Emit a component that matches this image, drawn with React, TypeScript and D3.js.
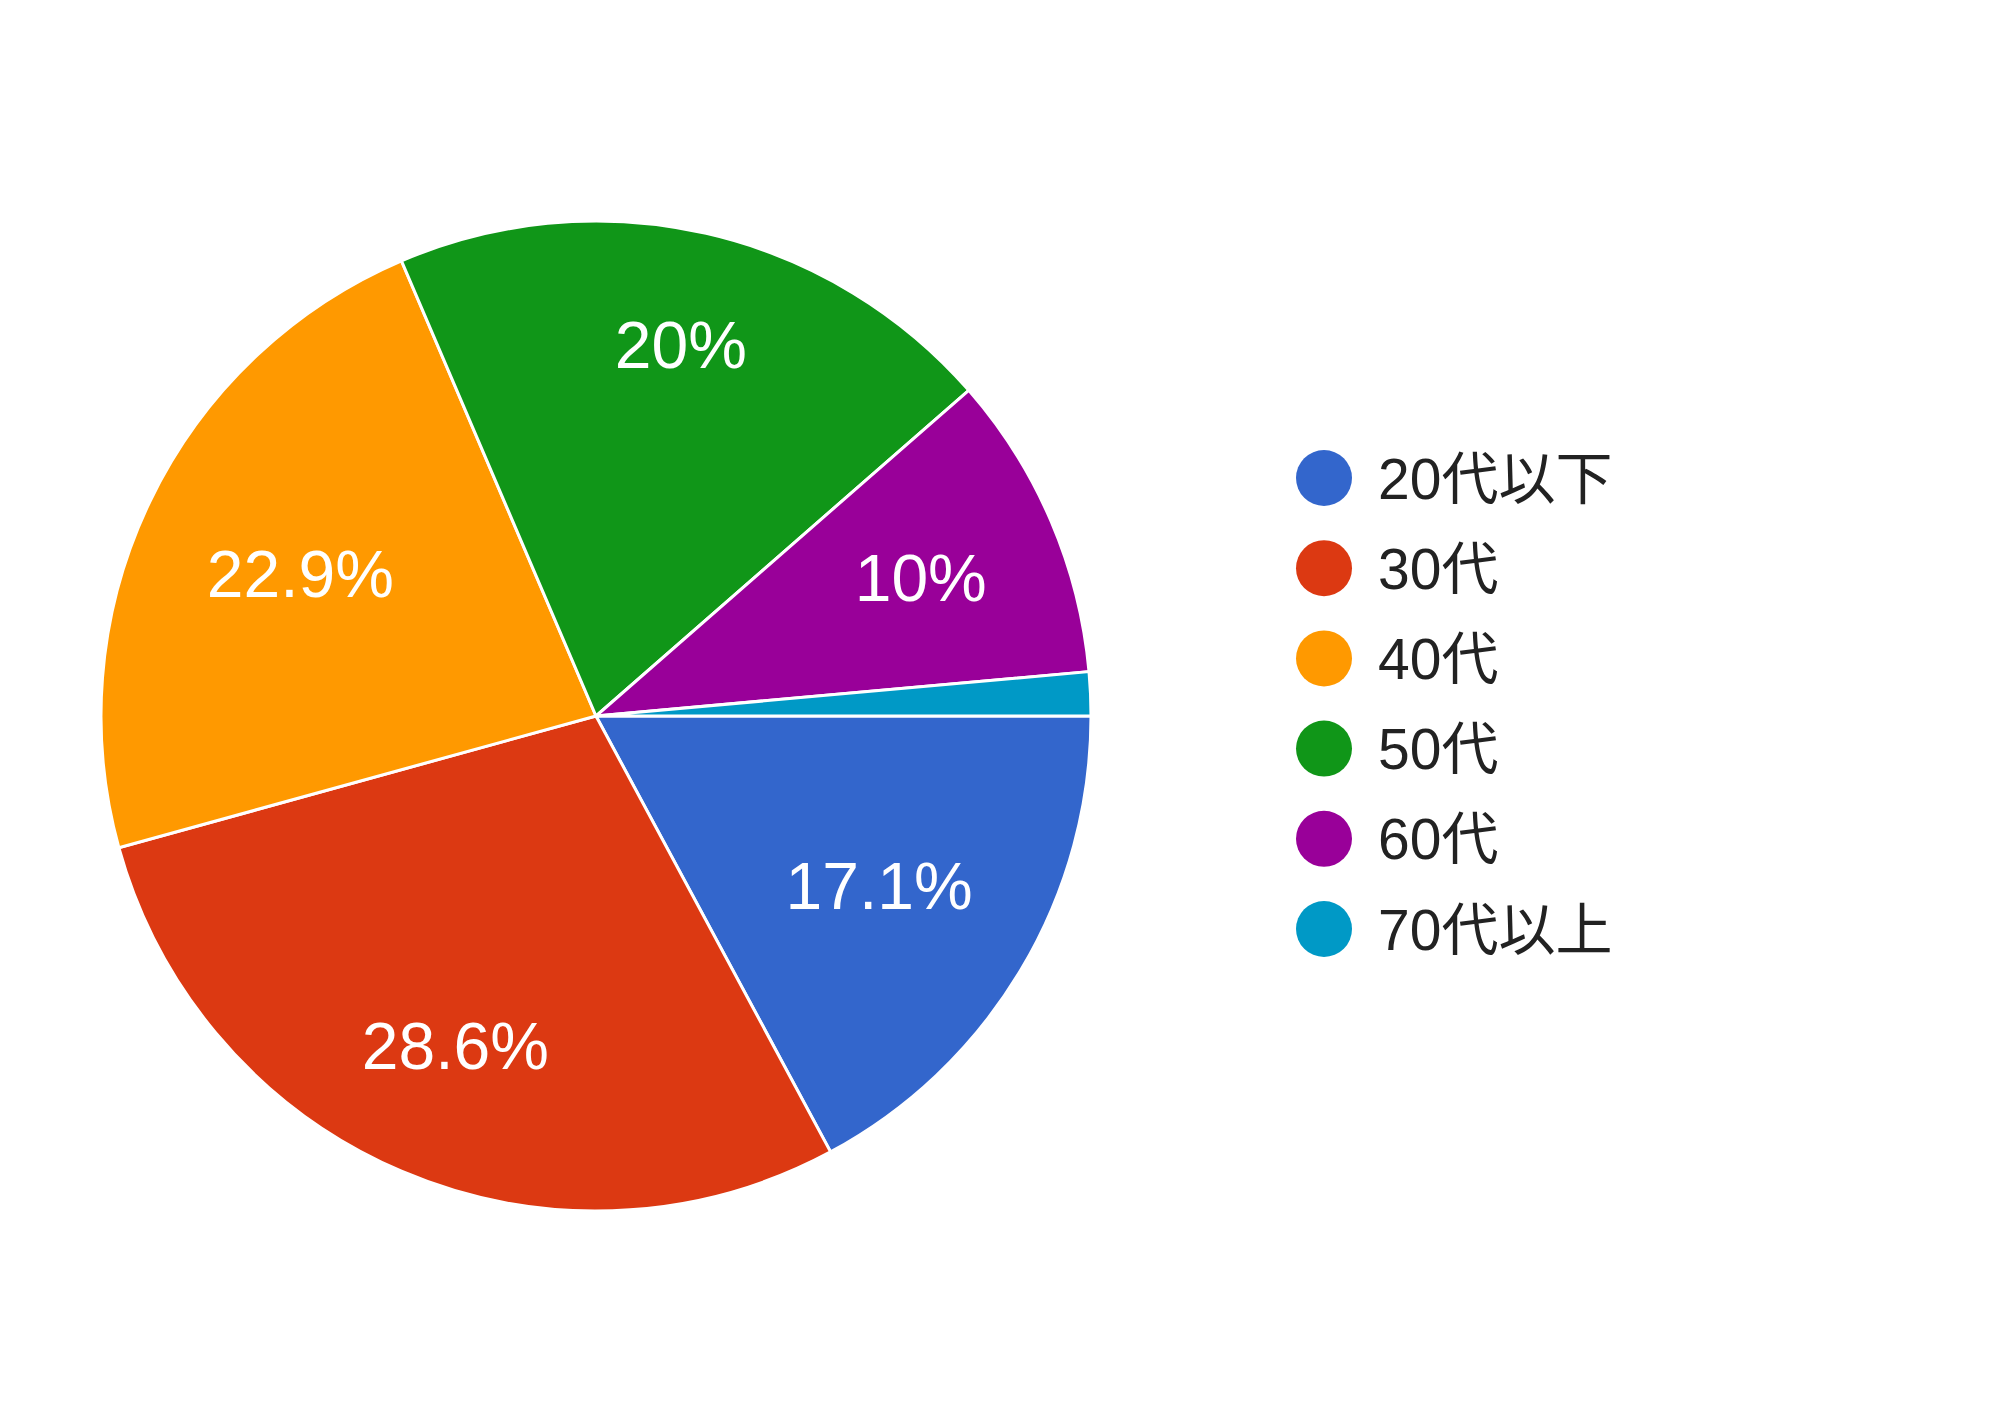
import React from "react";
import * as d3 from "d3";

const categories = ["20代以下", "30代", "40代", "50代", "60代", "70代以上"];
const counts = [12, 20, 16, 14, 7, 1];
const colors = ["#3366cc", "#dc3912", "#ff9900", "#109618", "#990099", "#0099c6"];

const W = 2000;
const H = 1414;
const cx = 596;
const cy = 716;
const R = 495;
const LABEL_FONT = "'Liberation Sans', Arial, sans-serif";
const LEGEND_FONT = "'Liberation Sans', Arial, 'Noto Sans CJK JP', sans-serif";
const LABEL_SIZE = 66;

function measure(text: string, font: string): number {
  const c = document.createElement("canvas");
  const ctx = c.getContext("2d");
  if (!ctx) return text.length * LABEL_SIZE * 0.56;
  ctx.font = font;
  return ctx.measureText(text).width;
}

export default function App() {
  const data = categories.map((c, i) => ({ name: c, value: counts[i], color: colors[i] }));
  const total = d3.sum(counts);
  const pie = d3
    .pie<any>()
    .sort(null)
    .value((d: any) => d.value)
    .startAngle(Math.PI / 2)
    .endAngle(Math.PI / 2 + Math.PI * 2);
  const arcs = pie(data);
  const arc = d3.arc<any>().innerRadius(0).outerRadius(R);

  // label placement: text box's far corner sits on a ring at 0.855 R along the bisector
  const ringR = R * 0.855;
  const halfH = LABEL_SIZE * 0.358;

  const legendY = d3.scaleLinear().domain([0, categories.length - 1]).range([478, 929]);

  return (
    <svg
      width={W}
      height={H}
      style={{ position: "absolute", left: 0, top: 0, background: "#fff" }}
    >
      <g transform={`translate(${cx},${cy})`}>
        {arcs.map((a, i) => (
          <path key={i} d={arc(a) || ""} fill={a.data.color} stroke="#fff" strokeWidth={3} />
        ))}
        {arcs.map((a, i) => {
          const pct = (a.data.value / total) * 100;
          if (pct < 5) return null;
          const txt = String(Number(pct.toFixed(1))) + "%";
          const w = measure(txt, `${LABEL_SIZE}px 'Liberation Sans', Arial, sans-serif`);
          const mid = (a.startAngle + a.endAngle) / 2;
          const ux = Math.sin(mid);
          const uy = -Math.cos(mid);
          const sx = Math.sign(ux) * (w / 2);
          const sy = Math.sign(uy) * halfH;
          const us = ux * sx + uy * sy;
          const ss = sx * sx + sy * sy;
          const d = -us + Math.sqrt(us * us - ss + ringR * ringR);
          const x = d * ux;
          const y = d * uy;
          return (
            <text
              key={"l" + i}
              x={x}
              y={y + halfH}
              textAnchor="middle"
              fill="#fff"
              fontFamily={LABEL_FONT}
              fontSize={LABEL_SIZE}
            >
              {txt}
            </text>
          );
        })}
      </g>
      <g>
        {data.map((d, i) => (
          <g key={"lg" + i} transform={`translate(0,${legendY(i)})`}>
            <circle cx={1324} cy={0} r={28} fill={d.color} />
            <text x={1378} y={20.5} fill="#222" fontFamily={LEGEND_FONT} fontSize={57}>
              {d.name}
            </text>
          </g>
        ))}
      </g>
    </svg>
  );
}
